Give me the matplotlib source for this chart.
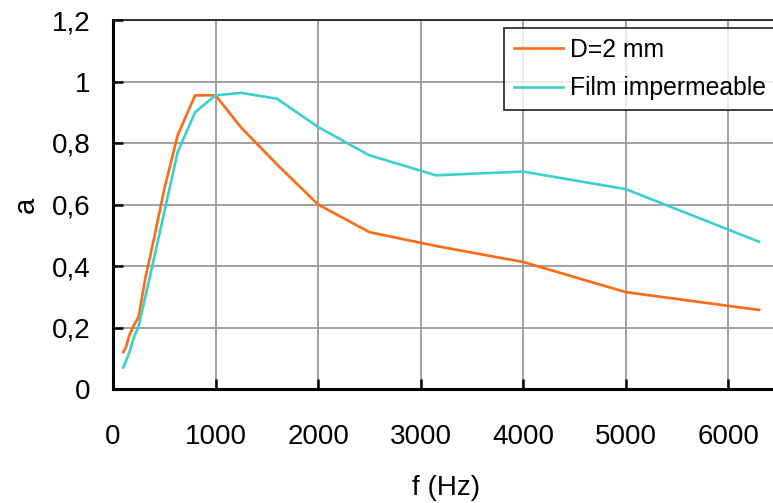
import matplotlib
matplotlib.use('Agg')
import matplotlib.pyplot as plt
from matplotlib.ticker import FuncFormatter

# Bandes de tiers d'octave (Hz)
frequences = [100, 125, 160, 200, 250, 315, 400, 500, 630, 800, 1000,
              1250, 1600, 2000, 2500, 3150, 4000, 5000, 6300]

# Coefficient d'absorption
alpha_d2mm = [0.12, 0.135, 0.175, 0.205, 0.235, 0.36, 0.49, 0.65, 0.825, 0.955, 0.955,
              0.85, 0.73, 0.60, 0.51, 0.465, 0.413, 0.315, 0.257]
alpha_film = [0.07, 0.09, 0.12, 0.165, 0.205, 0.30, 0.425, 0.575, 0.77, 0.90, 0.955,
              0.963, 0.944, 0.852, 0.76, 0.695, 0.707, 0.65, 0.479]

labels_series = ['D=2 mm', 'Film impermeable']
couleurs = ['#FF6A13', '#3CCFCF']

plt.rcParams['font.family'] = ['Liberation Sans', 'DejaVu Sans']

W, H = 773, 503
fig = plt.figure(figsize=(W / 100, H / 100), dpi=100)
ax = fig.add_axes([113 / W, (H - 389) / H, (779.5 - 113) / W, (389 - 20) / H])

ax.plot(frequences, alpha_d2mm, color=couleurs[0], lw=1.9, label=labels_series[0])
ax.plot(frequences, alpha_film, color=couleurs[1], lw=1.9, label=labels_series[1])

ax.set_xlim(0, 6500)
ax.set_ylim(0, 1.2)
ax.set_xticks(range(0, 7000, 1000))
ax.set_yticks([0, 0.2, 0.4, 0.6, 0.8, 1.0, 1.2])
ax.yaxis.set_major_formatter(FuncFormatter(lambda v, p: f'{v:g}'.replace('.', ',')))

ax.grid(True, color='#9a9a9a', lw=1.3)
ax.set_axisbelow(True)

for s in ['left', 'bottom']:
    ax.spines[s].set_linewidth(2.2)
    ax.spines[s].set_color('black')
ax.spines['top'].set_linewidth(1.2)
ax.spines['top'].set_color('#2a0a0a')
ax.spines['right'].set_visible(False)

ax.tick_params(direction='in', length=7, width=1.8, labelsize=20, colors='black')
ax.tick_params(axis='y', pad=16)
ax.tick_params(axis='x', pad=25)

ax.set_xlabel('f (Hz)', fontsize=20, labelpad=18)
ax.set_ylabel('a', fontsize=21, labelpad=9)

leg = ax.legend(loc='upper left', bbox_to_anchor=(504 / W, 1 - 28 / H),
                bbox_transform=fig.transFigure, borderaxespad=0,
                fontsize=17.8, frameon=True, fancybox=False, edgecolor='black',
                handlelength=2.0, handletextpad=0.28, labelspacing=0.58,
                borderpad=0.4)
leg.get_frame().set_linewidth(1.3)

fig.savefig('out.png', dpi=100)
